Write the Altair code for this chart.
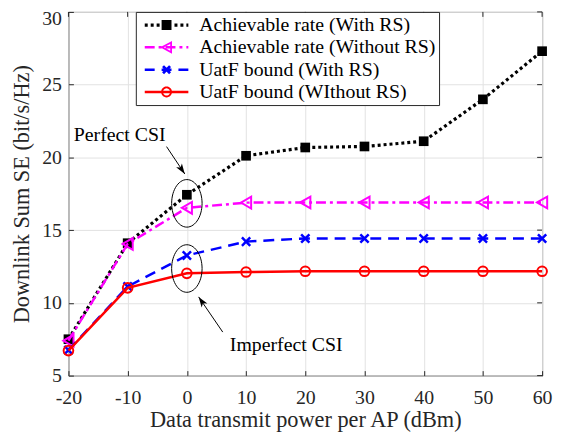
import math
import altair as alt
import pandas as pd

# ---------------- data ----------------
x_power = [-20, -10, 0, 10, 20, 30, 40, 50, 60]
ach_with_rs = [7.5, 14.1, 17.43, 20.11, 20.68, 20.75, 21.11, 23.99, 27.3]
ach_without_rs = [7.4, 14.05, 16.53, 16.89, 16.9, 16.9, 16.9, 16.9, 16.9]
uatf_with_rs = [6.75, 11.12, 13.26, 14.21, 14.43, 14.43, 14.43, 14.43, 14.43]
uatf_without_rs = [6.72, 11.03, 12.03, 12.12, 12.17, 12.17, 12.17, 12.17, 12.17]

series_names = [
    "Achievable rate (With RS)",
    "Achievable rate (Without RS)",
    "UatF bound (With RS)",
    "UatF bound (WIthout RS)",
]
series_colors = ["#000000", "#ff00ff", "#0000ff", "#ff0000"]

x_ticks = [-20, -10, 0, 10, 20, 30, 40, 50, 60]
y_ticks = [5, 10, 15, 20, 25, 30]

# annotations
ellipse_x = [0, 0]
ellipse_y = [16.84, 12.36]
arrow_tail_x = [-3.43, 6.06]
arrow_tail_y = [20.74, 7.99]
arrow_tip_x = [-0.35, 1.99]
arrow_tip_y = [18.86, 10.41]
note_x = [-11.35, 16.77]
note_y = [21.51, 7.09]
note_text = ["Perfect CSI", "Imperfect CSI"]

# ---------------- layout ----------------
W, H = 478, 367
XD, YD = [-20, 60], [5, 30]
PX_X = W / (XD[1] - XD[0])
PX_Y = H / (YD[1] - YD[0])
SERIF = "Liberation Serif, Times New Roman, Times, DejaVu Serif, serif"
INK = "#262626"
GRID = "#e2e2e2"

rows = []
for name, vals in zip(series_names, [ach_with_rs, ach_without_rs, uatf_with_rs, uatf_without_rs]):
    for xv, yv in zip(x_power, vals):
        rows.append({"series": name, "power": xv, "se": yv})
df = pd.DataFrame(rows)

x_axis = alt.Axis(
    values=x_ticks, title="Data transmit power per AP (dBm)",
    labelExpr="'' + datum.value", labelFont=SERIF, labelFontSize=20, labelColor=INK,
    labelPadding=12.5, labelFlush=False, labelOverlap=False,
    tickSize=5, tickColor=INK, tickWidth=1, offset=-5, domain=False,
    grid=True, gridColor=GRID, gridWidth=1,
    titleFont=SERIF, titleFontSize=22.5, titleFontWeight="normal", titleColor=INK,
    titleBaseline="alphabetic", titleY=56,
)
y_axis = alt.Axis(
    values=y_ticks, title="Downlink Sum SE (bit/s/Hz)",
    labelExpr="'' + datum.value", labelFont=SERIF, labelFontSize=20, labelColor=INK,
    labelPadding=7, labelFlush=False, labelOverlap=False,
    labelOffset={"condition": {"test": "datum.value == 30", "value": 7}, "value": 0},
    tickSize=5, tickColor=INK, tickWidth=1, offset=-5, domain=False,
    grid=True, gridColor=GRID, gridWidth=1,
    titleFont=SERIF, titleFontSize=22.5, titleFontWeight="normal", titleColor=INK,
    titleBaseline="alphabetic", titleX=-45,
)
X = alt.X("power:Q", scale=alt.Scale(domain=XD, nice=False, zero=False), axis=x_axis)
Y = alt.Y("se:Q", scale=alt.Scale(domain=YD, nice=False, zero=False), axis=y_axis)

# ---------------- legend symbols (line + marker as one filled path) ----------------
K = 22.0


def fmt(v):
    return f"{v / K:.3f}"


def poly(pts, hole=False):
    n = len(pts)
    a = sum(pts[i][0] * pts[(i + 1) % n][1] - pts[(i + 1) % n][0] * pts[i][1] for i in range(n))
    if (a > 0) == hole:
        pts = pts[::-1]
    return "M" + "L".join(f"{fmt(x)},{fmt(y)}" for x, y in pts) + "Z"


def rect(x0, x1, hw):
    return poly([(x0, -hw), (x1, -hw), (x1, hw), (x0, hw)])


def dashes(pattern, hw, x0=-22.0, x1=22.0):
    out, x, i = [], x0, 0
    while x < x1:
        seg = pattern[i % len(pattern)]
        if i % 2 == 0:
            out.append(rect(x, min(x + seg, x1), hw))
        x += seg
        i += 1
    return "".join(out)


def circle_pts(r, n=28):
    return [(r * math.cos(2 * math.pi * i / n), r * math.sin(2 * math.pi * i / n)) for i in range(n)]


def tri_ring(pts, t):
    (ax, ay), (bx, by), (cx, cy) = pts
    la = math.dist((bx, by), (cx, cy))
    lb = math.dist((ax, ay), (cx, cy))
    lc = math.dist((ax, ay), (bx, by))
    p = la + lb + lc
    ix, iy = (la * ax + lb * bx + lc * cx) / p, (la * ay + lb * by + lc * cy) / p
    s = p / 2
    area = math.sqrt(s * (s - la) * (s - lb) * (s - lc))
    r = area / s
    f = (r - t) / r
    inner = [(ix + (x - ix) * f, iy + (y - iy) * f) for x, y in pts]
    return poly(pts) + poly(inner, hole=True)


def rot_rect(L, w, ang):
    c, s = math.cos(ang), math.sin(ang)
    return poly([(x * c - y * s, x * s + y * c) for x, y in [(-L, -w), (L, -w), (L, w), (-L, w)]])


legend_paths = [
    dashes([3, 3], 1.6) + poly([(-5, -5), (5, -5), (5, 5), (-5, 5)]),
    dashes([10, 4, 3, 4], 1.25) + tri_ring([(-6.5, 0), (5.5, -6.5), (5.5, 6.5)], 1.8),
    dashes([10, 7], 1.25) + rot_rect(5.0, 1.4, math.pi / 4) + rot_rect(5.0, 1.4, -math.pi / 4),
    rect(-22, 22, 1.25) + poly(circle_pts(5.5)) + poly(circle_pts(3.6), hole=True),
]

legend = alt.Legend(
    title=None, orient="none", legendX=68, legendY=0,
    labelFont=SERIF, labelFontSize=20, labelColor="#000000", labelLimit=500,
    labelOffset=11, symbolOffset=6, symbolSize=(2 * K) ** 2, symbolStrokeWidth=0,
    symbolOpacity=1, clipHeight=20.5, rowPadding=1.5, padding=3,
    strokeColor=INK, fillColor="white",
)

# ---------------- series layers ----------------
line_styles = [
    dict(strokeDash=[3, 3], strokeWidth=3.2),
    dict(strokeDash=[10, 4, 3, 4], strokeWidth=2.5),
    dict(strokeDash=[11, 7], strokeWidth=2.5),
    dict(strokeWidth=2.5),
]
marker_styles = [
    dict(shape="square", filled=True, size=95, strokeWidth=1),
    dict(shape="triangle-left", filled=False, size=140, strokeWidth=2),
    dict(shape="M-1,-1L1,1M-1,1L1,-1", filled=False, size=70, strokeWidth=2.5),
    dict(shape="circle", filled=False, size=95, strokeWidth=2),
]

layers = []
for name, color, ls, ms in zip(series_names, series_colors, line_styles, marker_styles):
    base = alt.Chart(df).transform_filter(alt.datum.series == name)
    layers.append(base.mark_line(color=color, strokeCap="butt", **ls).encode(x=X, y=Y))
    layers.append(base.mark_point(color=color, opacity=1, **ms).encode(x=X, y=Y))

legend_layer = alt.Chart(df).mark_point(filled=True, opacity=0).encode(
    x=X, y=Y,
    color=alt.Color("series:N", scale=alt.Scale(domain=series_names, range=series_colors), legend=legend),
    shape=alt.Shape("series:N", scale=alt.Scale(domain=series_names, range=legend_paths), legend=legend),
)

# ---------------- mirrored inward ticks on top / right ----------------
right_df = pd.DataFrame({"se": y_ticks})
top_df = pd.DataFrame({"power": x_ticks})
right_ticks = alt.Chart(right_df).transform_calculate(
    power=str(XD[1]), power2=str(XD[1] - 5 / PX_X)
).mark_rule(color=INK, strokeWidth=1).encode(x=X, x2="power2:Q", y=Y)
top_ticks = alt.Chart(top_df).transform_calculate(
    se=str(YD[1]), se2=str(YD[1] - 5 / PX_Y)
).mark_rule(color=INK, strokeWidth=1).encode(x=X, y=Y, y2="se2:Q")

# ---------------- annotations ----------------
ell_df = pd.DataFrame({"power": ellipse_x, "se": ellipse_y})
ER = 24.0
ellipse_path = "M" + "L".join(
    f"{0.64 * math.cos(2 * math.pi * i / 60):.4f},{math.sin(2 * math.pi * i / 60):.4f}" for i in range(60)
) + "Z"
ellipses = alt.Chart(ell_df).mark_point(
    shape=ellipse_path, size=(2 * ER) ** 2, filled=False, color="#000000", strokeWidth=1, opacity=1
).encode(x=X, y=Y)

arrow_angle = []
for tx, ty, hx, hy in zip(arrow_tail_x, arrow_tail_y, arrow_tip_x, arrow_tip_y):
    dx = (hx - tx) * PX_X
    dy = -(hy - ty) * PX_Y
    arrow_angle.append(math.degrees(math.atan2(dx, -dy)) % 360)

arr_df = pd.DataFrame({
    "power": arrow_tail_x, "se": arrow_tail_y,
    "power2": arrow_tip_x, "se2": arrow_tip_y,
})
arrow_lines = alt.Chart(arr_df).mark_rule(color="#000000", strokeWidth=1).encode(
    x=X, y=Y, x2="power2:Q", y2="se2:Q"
)
head_df = pd.DataFrame({"power": arrow_tip_x, "se": arrow_tip_y, "ang": arrow_angle})
arrow_heads = alt.Chart(head_df).mark_point(
    shape="M0,0L0.5,1.5L0,1.1L-0.5,1.5Z", size=196, filled=True, color="#000000", opacity=1
).encode(x=X, y=Y, angle=alt.Angle("ang:Q", scale=None))

note_df = pd.DataFrame({"power": note_x, "se": note_y, "txt": note_text})
notes = alt.Chart(note_df).mark_text(
    font=SERIF, fontSize=20, color="#000000", align="center", baseline="middle"
).encode(x=X, y=Y, text="txt:N")

chart = alt.layer(
    right_ticks, top_ticks, *layers, ellipses, arrow_lines, arrow_heads, notes, legend_layer
).properties(
    width=W, height=H,
    autosize=alt.AutoSizeParams(type="none"),
    padding={"left": 61, "top": 2, "right": 12, "bottom": 57},
    background="white",
).configure_view(stroke=INK, strokeWidth=1)

chart.save("out.html", embed_options={"renderer": "svg", "actions": False})
